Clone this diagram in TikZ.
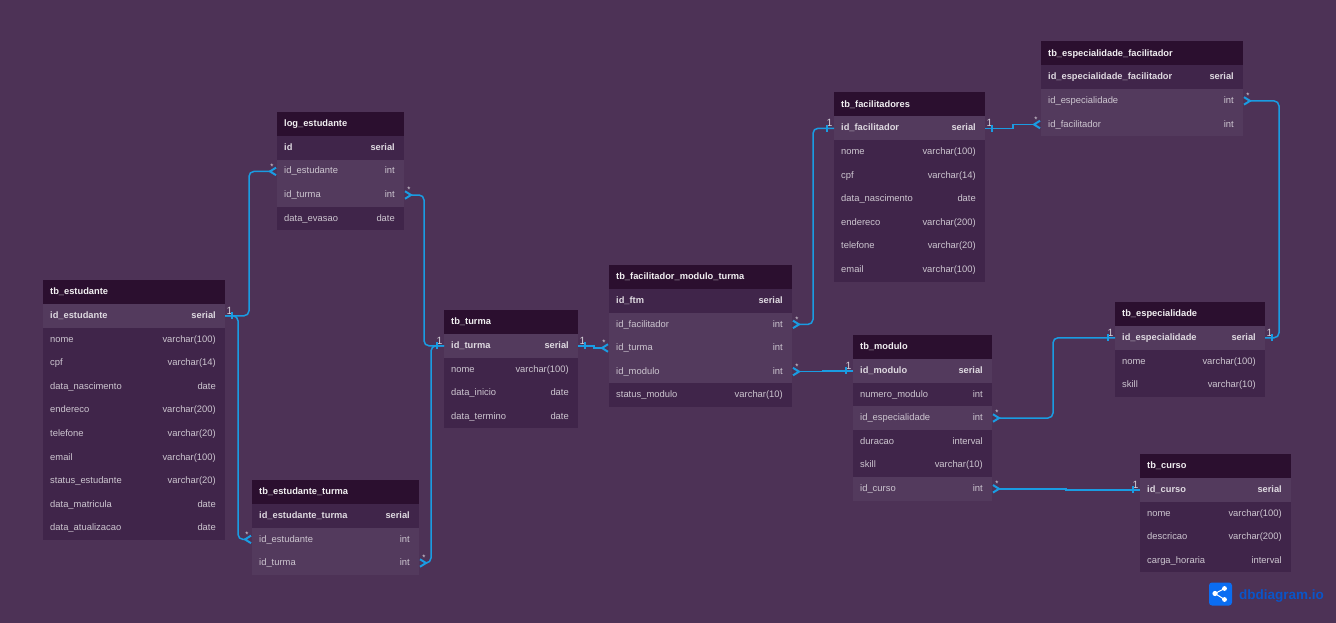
\documentclass[tikz,border=0pt]{standalone}
\usepackage{fontspec}
\setmainfont{Liberation Sans}
\usetikzlibrary{arrows.meta,calc}
\definecolor{bgcol}{HTML}{4D3256}
\definecolor{headcol}{HTML}{2B0F2F}
\definecolor{darkcol}{HTML}{40254A}
\definecolor{lightcol}{HTML}{533A5D}
\definecolor{relcol}{HTML}{1A9CE2}
\definecolor{logocol}{HTML}{0B6DF2}
\definecolor{logotext}{HTML}{0A55C8}
\tikzset{
	rowbox/.style={rectangle, inner sep=0pt, outer sep=0pt, anchor=north west, minimum height=23.6},
	rowplain/.style={rowbox, fill=darkcol},
	rowkey/.style={rowbox, fill=darkcol},
	rowlink/.style={rowbox, fill=lightcol},
	rowmain/.style={rowbox, fill=lightcol},
	headbox/.style={rectangle, inner sep=0pt, outer sep=0pt, anchor=north west, minimum height=24, fill=headcol},
	celltext/.style={inner sep=0pt, text height=7.2pt, text depth=2pt, text=white!72!bgcol, font=\fontsize{9.4}{11}\selectfont},
	textplain/.style={celltext},
	textlink/.style={celltext},
	textkey/.style={celltext, text=white!82!bgcol, font=\fontsize{9.3}{11}\selectfont\bfseries},
	textmain/.style={textkey},
	headtext/.style={celltext, anchor=west, text=white!92!bgcol, font=\fontsize{9.3}{11}\selectfont\bfseries},
	relline/.style={draw=relcol, line width=1.5pt, rounded corners=5pt},
	manyend/.style={relline, -{Straight Barb[reversed, length=6pt, width=7.5pt, line width=2pt]}},
	jogend/.style={manyend, sharp corners},
	cardone/.style={inner sep=0pt, text=white!75!bgcol, font=\fontsize{10.5}{11}\selectfont},
	cardmany/.style={inner sep=0pt, text=white!80!bgcol, font=\fontsize{8}{9}\selectfont},
}
% name, left, top, width, title, rows
\newcommand{\dbtable}[6]{
	\node[headbox, minimum width=#4] (#1-head) at (#2,#3) {};
	\node[headtext] (#1-title) at ($(#1-head.west)+(7,0)$) {#5};
	\foreach \field/\ftype/\kind [count=\i, evaluate=\i as \ry using #3+24+(\i-1)*23.6] in {#6} {
		\node[row\kind, minimum width=#4] (#1-\i) at (#2,\ry) {};
		\node[text\kind, anchor=west] (#1-\i-field) at ($(#1-\i.west)+(7,0)$) {\field};
		\node[text\kind, anchor=east] (#1-\i-type) at ($(#1-\i.east)+(-9,0)$) {\ftype};
	}
}
% node, anchor, side (1 right, -1 left)
\newcommand{\relone}[3]{
	\node[cardone] (#1-#2-one) at ($(#1.#2)+(#3*4.5,-5)$) {1};
	\draw[relline] ($(#1.#2)+(#3*7,-3.5)$) -- ++(0,7);
}
\newcommand{\relmany}[3]{
	\node[cardmany] (#1-#2-many) at ($(#1.#2)+(#3*5,-5)$) {*};
}
\begin{document}
\begin{tikzpicture}[x=1pt,y=-1pt]
	\fill[bgcol] (0,0) rectangle (1336,623);
	\useasboundingbox (0,0) rectangle (1336,623);

	% tables
	\dbtable{estud}{43}{280}{182}{tb\_estudante}{id\_estudante/serial/main, nome/varchar(100)/plain, cpf/varchar(14)/plain, data\_nascimento/date/plain, endereco/varchar(200)/plain, telefone/varchar(20)/plain, email/varchar(100)/plain, status\_estudante/varchar(20)/plain, data\_matricula/date/plain, data\_atualizacao/date/plain}
	\dbtable{logest}{277}{112}{127}{log\_estudante}{id/serial/key, id\_estudante/int/link, id\_turma/int/link, data\_evasao/date/plain}
	\dbtable{estturma}{252}{480}{167}{tb\_estudante\_turma}{id\_estudante\_turma/serial/key, id\_estudante/int/link, id\_turma/int/link}
	\dbtable{turma}{444}{310}{134}{tb\_turma}{id\_turma/serial/main, nome/varchar(100)/plain, data\_inicio/date/plain, data\_termino/date/plain}
	\dbtable{ftm}{609}{265}{183}{tb\_facilitador\_modulo\_turma}{id\_ftm/serial/key, id\_facilitador/int/link, id\_turma/int/link, id\_modulo/int/link, status\_modulo/varchar(10)/plain}
	\dbtable{facil}{834}{92.5}{151}{tb\_facilitadores}{id\_facilitador/serial/main, nome/varchar(100)/plain, cpf/varchar(14)/plain, data\_nascimento/date/plain, endereco/varchar(200)/plain, telefone/varchar(20)/plain, email/varchar(100)/plain}
	\dbtable{espfacil}{1041}{41.5}{202}{tb\_especialidade\_facilitador}{id\_especialidade\_facilitador/serial/key, id\_especialidade/int/link, id\_facilitador/int/link}
	\dbtable{espec}{1115}{302}{150}{tb\_especialidade}{id\_especialidade/serial/main, nome/varchar(100)/plain, skill/varchar(10)/plain}
	\dbtable{modulo}{853}{335}{139}{tb\_modulo}{id\_modulo/serial/main, numero\_modulo/int/plain, id\_especialidade/int/link, duracao/interval/plain, skill/varchar(10)/plain, id\_curso/int/link}
	\dbtable{curso}{1140}{454}{151}{tb\_curso}{id\_curso/serial/main, nome/varchar(100)/plain, descricao/varchar(200)/plain, carga\_horaria/interval/plain}

	% relations, one side first
	\draw[manyend] (estud-1.east) -- ++(24,0) |- (logest-2.west);
	\draw[manyend] (estud-1.east) -- ++(13,0) |- (estturma-2.west);
	\draw[manyend] (turma-1.west) -- ++(-20,0) |- (logest-3.east);
	\draw[manyend] (turma-1.west) -- ++(-13,0) |- (estturma-3.east);
	\draw[jogend] (turma-1.east) -- ++(16,0) |- (ftm-3.west);
	\draw[manyend] (facil-1.west) -- ++(-21,0) |- (ftm-2.east);
	\draw[jogend] (modulo-1.west) -- ++(-30,0) |- (ftm-4.east);
	\draw[jogend] (facil-1.east) -- ++(28,0) |- (espfacil-3.west);
	\draw[manyend] (espec-1.east) -- ++(14,0) |- (espfacil-2.east);
	\draw[manyend] (espec-1.west) -- ++(-62,0) |- (modulo-3.east);
	\draw[jogend] (curso-1.west) -- ++(-74,0) |- (modulo-6.east);

	% cardinality marks
	\relone{estud-1}{east}{1}
	\relone{turma-1}{west}{-1}
	\relone{turma-1}{east}{1}
	\relone{facil-1}{west}{-1}
	\relone{facil-1}{east}{1}
	\relone{modulo-1}{west}{-1}
	\relone{espec-1}{east}{1}
	\relone{espec-1}{west}{-1}
	\relone{curso-1}{west}{-1}
	\relmany{logest-2}{west}{-1}
	\relmany{logest-3}{east}{1}
	\relmany{estturma-2}{west}{-1}
	\relmany{estturma-3}{east}{1}
	\relmany{ftm-3}{west}{-1}
	\relmany{ftm-2}{east}{1}
	\relmany{ftm-4}{east}{1}
	\relmany{espfacil-3}{west}{-1}
	\relmany{espfacil-2}{east}{1}
	\relmany{modulo-3}{east}{1}
	\relmany{modulo-6}{east}{1}

	% logo
	\node[fill=logocol, rounded corners=3pt, minimum size=23, inner sep=0pt] (logo) at (1220.5,594) {};
	\coordinate (logoa) at (1215,593.5);
	\coordinate (logob) at (1224.5,588.5);
	\coordinate (logoc) at (1224.5,599.5);
	\draw[white, line width=1pt] (logob) -- (logoa) -- (logoc);
	\fill[white] (logoa) circle (2.6) (logob) circle (2.4) (logoc) circle (2.4);
	\node[anchor=base west, inner sep=0pt, text=logotext, font=\fontsize{13.5}{16}\selectfont\bfseries] (logoname) at (1239,599) {dbdiagram.io};
\end{tikzpicture}
\end{document}
